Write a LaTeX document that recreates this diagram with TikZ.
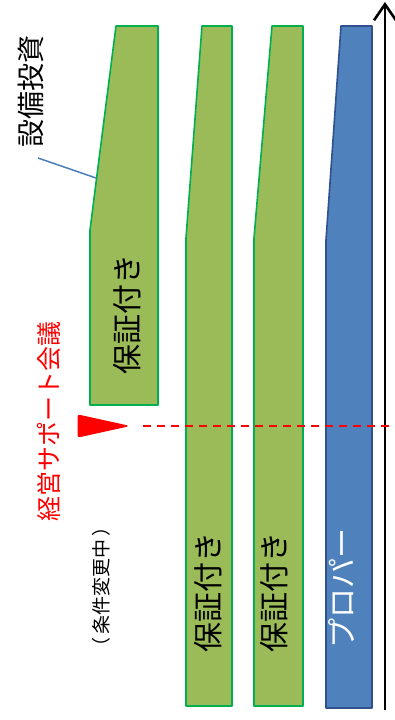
\documentclass[tikz,border=0pt]{standalone}
\usepackage{fontspec}
\newfontfamily\cjk{Noto Sans CJK JP}
\usetikzlibrary{arrows.meta}
\definecolor{barGreen}{HTML}{9BBB59}
\definecolor{barGreenLine}{HTML}{00B050}
\definecolor{barBlue}{HTML}{4F81BD}
\definecolor{barBlueLine}{HTML}{2F528F}
\definecolor{leader}{HTML}{4A7EBB}
\tikzset{
  greenbar/.style={fill=barGreen, draw=barGreenLine, line width=1.6pt, line join=round},
  bluebar/.style={fill=barBlue, draw=barBlueLine, line width=1.6pt, line join=round},
  vlabel/.style={rotate=90, inner sep=0pt, font=\cjk\fontsize{#1}{#1}\selectfont},
}
\begin{document}
\begin{tikzpicture}[x=1pt,y=-1pt]
\useasboundingbox (0,0) rectangle (395,720);
% bars
\draw[greenbar] (116,26) -- (158,26) -- (158,405) -- (90,405) -- (90,230) -- cycle;
\draw[greenbar] (202,26) -- (232,26) -- (232,706) -- (186,706) -- (186,238) -- cycle;
\draw[greenbar] (272,26) -- (303,26) -- (303,706) -- (254,706) -- (254,238) -- cycle;
\draw[bluebar] (341,26) -- (372,26) -- (372,708) -- (326,708) -- (326,240) -- cycle;
% axis
\coordinate (axB) at (385,710);
\coordinate (axT) at (385,2);
\draw[line width=2.6pt, -{Straight Barb[length=16pt,width=22pt,line width=2.6pt]}] (axB) -- (axT);
% labels
\node[vlabel=28] (setsubi) at (31,91) {設備投資};
\coordinate (leadS) at (38,158);
\coordinate (leadE) at (96,178);
\draw[leader, line width=1.5pt] (leadS) -- (leadE);
\node[vlabel=30] (hosho1) at (127,314) {保証付き};
\node[vlabel=30] (hosho2) at (208,592) {保証付き};
\node[vlabel=30] (hosho3) at (274,592) {保証付き};
\node[vlabel=30, text=white] (proper) at (342,588) {プロパー};
\node[vlabel=25, text=red] (kaigi) at (49,421) {経営サポート会議};
\node[vlabel=19] (joken) at (101,587) {（\,条件変更中\,）};
% marker
\fill[red, draw=red, line width=1pt, rounded corners=2pt] (78,415) -- (128,426) -- (78,437) -- cycle;
\coordinate (dashS) at (143,426);
\coordinate (dashE) at (395,426);
\draw[red, line width=1.5pt, dash pattern=on 8pt off 6pt] (dashS) -- (dashE);
\end{tikzpicture}
\end{document}
